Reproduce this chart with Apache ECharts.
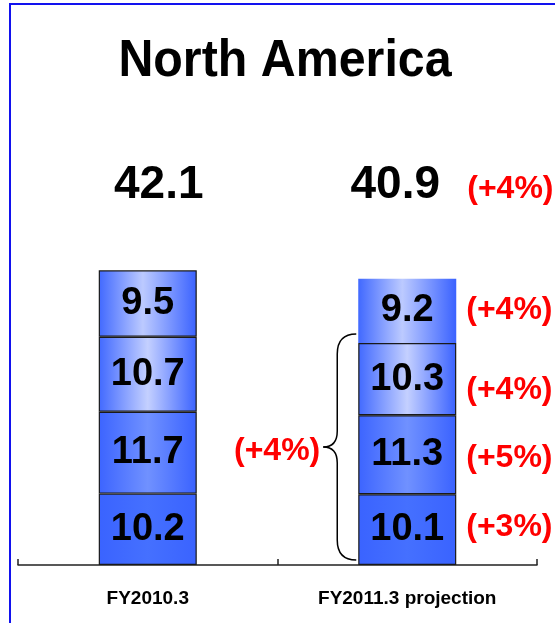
<!DOCTYPE html>
<html>
<head>
<meta charset="utf-8">
<script src="https://cdn.jsdelivr.net/npm/echarts@6/dist/echarts.min.js"></script>
<style>
html,body{margin:0;padding:0;background:#fff;}
#main{width:555px;height:623px;}
</style>
</head>
<body>
<div id="main"></div>
<script>
// ---- data ----
const categories = ['FY2010.3', 'FY2011.3 projection'];
const segment1 = [10.2, 10.1];   // bottom
const segment2 = [11.7, 11.3];
const segment3 = [10.7, 10.3];
const segment4 = [9.5, 9.2];     // top
const totals = [42.1, 40.9];
const segmentGrowth = ['(+3%)', '(+5%)', '(+4%)', '(+4%)']; // projection, bottom -> top
const totalGrowth = '(+4%)';
const braceGrowth = '(+4%)';
const titleText = 'North America';

// ---- styling ----
const FONT = "'Liberation Sans', Arial, Helvetica, sans-serif";
function grad(edgeL, mid, edgeR, midPos) {
  return new echarts.graphic.LinearGradient(0, 0, 1, 0, [
    { offset: 0, color: edgeL },
    { offset: midPos, color: mid },
    { offset: 1, color: edgeR }
  ]);
}
const segFills = [
  grad('#3a63ff', '#4570ff', '#3a63ff', 0.5),
  grad('#3c64ff', '#7091ff', '#3a62ff', 0.5),
  grad('#4169ff', '#c4d0ff', '#3a62ff', 0.5),
  grad('#4169ff', '#bccaff', '#3a62ff', 0.45)
];
const segData = [segment1, segment2, segment3, segment4];
const labelOffsets = [[0, -2], [0, 3], [0, 11], [0, -1]];

const series = [];
segData.forEach(function (arr, i) {
  series.push({
    name: 'seg' + (i + 1),
    type: 'bar',
    stack: 'main',
    barWidth: 98,
    barGap: '-100%',
    silent: true,
    data: arr.map(function (v, c) {
      const noBorder = (c === 1 && i === 3);
      return {
        value: v,
        itemStyle: {
          color: segFills[i],
          borderColor: '#1a1a1a',
          borderWidth: noBorder ? 0 : 1.2
        }
      };
    }),
    label: {
      show: true,
      position: 'inside',
      formatter: function (p) { return p.value.toFixed(1); },
      color: '#000',
      fontFamily: FONT,
      fontWeight: 'bold',
      fontSize: 38
    }
  });
});
// overlay transparent stack carrying growth labels on the projection bar
segData.forEach(function (arr, i) {
  series.push({
    name: 'growth' + (i + 1),
    type: 'bar',
    stack: 'growth',
    barWidth: 98,
    barGap: '-100%',
    silent: true,
    itemStyle: { color: 'rgba(0,0,0,0)' },
    data: ['-', arr[1]],
    label: {
      show: true,
      position: 'right',
      distance: 10,
      offset: labelOffsets[i],
      formatter: function () { return segmentGrowth[i]; },
      color: '#ff0000',
      fontFamily: FONT,
      fontWeight: 'bold',
      fontSize: 32
    }
  });
});

const chart = echarts.init(document.getElementById('main'), null, { renderer: 'canvas' });
chart.setOption({
  animation: false,
  backgroundColor: '#fff',
  grid: { left: 18, right: 18, bottom: 58, top: 145, containLabel: false },
  xAxis: {
    type: 'category',
    data: categories,
    axisLine: { lineStyle: { color: '#222', width: 1.5 } },
    axisTick: { show: true, inside: true, length: 6, lineStyle: { color: '#222', width: 1.5 } },
    axisLabel: { color: '#000', fontFamily: FONT, fontWeight: 'bold', fontSize: 19, margin: 24 }
  },
  yAxis: { type: 'value', min: 0, max: 60, show: false, splitLine: { show: false } },
  series: series
});

// annotations positioned through the chart's scales
function px(cat, val) { return chart.convertToPixel({ gridIndex: 0 }, [cat, val]); }
const halfBar = 49;
const graphics = [
  { type: 'rect', shape: { x: 10, y: 4, width: 700, height: 800 }, style: { fill: 'none', stroke: '#1212ee', lineWidth: 2 }, silent: true },
  { type: 'text', silent: true, x: 285, y: 62, scaleX: 0.93,
    style: { text: titleText, x: 0, y: 0, textAlign: 'center', textVerticalAlign: 'middle',
      font: 'bold 52px ' + FONT, fill: '#000' } }
];
totals.forEach(function (t, c) {
  const p = px(c, t);
  const dx = c === 0 ? 11 : -12;
  graphics.push({
    type: 'text', silent: true,
    style: { text: t.toFixed(1), x: p[0] + dx, y: 185, textAlign: 'center', textVerticalAlign: 'middle',
      font: 'bold 46px ' + FONT, fill: '#000' }
  });
});
const p2 = px(1, totals[1]);
graphics.push({
  type: 'text', silent: true,
  style: { text: totalGrowth, x: p2[0] + halfBar + 11, y: 189, textAlign: 'left', textVerticalAlign: 'middle',
    font: 'bold 32px ' + FONT, fill: '#ff0000' }
});
// brace spanning the three lower segments of the projection bar
const braceTopVal = segment1[1] + segment2[1] + segment3[1];
const bTop = px(1, braceTopVal)[1] - 9;
const bBot = px(1, 0)[1] - 5;
const tipX = px(1, 0)[0] - halfBar - 2;
const spineX = tipX - 19;
const pointX = spineX - 14;
const mid = (bTop + bBot) / 2;
const braceStyle = { fill: 'none', stroke: '#000', lineWidth: 1.5 };
graphics.push(
  { type: 'bezierCurve', silent: true, style: braceStyle,
    shape: { x1: tipX, y1: bTop, cpx1: spineX, cpy1: bTop, x2: spineX, y2: bTop + 20 } },
  { type: 'line', silent: true, style: braceStyle,
    shape: { x1: spineX, y1: bTop + 20, x2: spineX, y2: mid - 16 } },
  { type: 'bezierCurve', silent: true, style: braceStyle,
    shape: { x1: spineX, y1: mid - 16, cpx1: spineX, cpy1: mid, x2: pointX, y2: mid } },
  { type: 'bezierCurve', silent: true, style: braceStyle,
    shape: { x1: pointX, y1: mid, cpx1: spineX, cpy1: mid, x2: spineX, y2: mid + 16 } },
  { type: 'line', silent: true, style: braceStyle,
    shape: { x1: spineX, y1: mid + 16, x2: spineX, y2: bBot - 20 } },
  { type: 'bezierCurve', silent: true, style: braceStyle,
    shape: { x1: spineX, y1: bBot - 20, cpx1: spineX, cpy1: bBot, x2: tipX, y2: bBot } },
  { type: 'text', silent: true,
    style: { text: braceGrowth, x: pointX - 3, y: mid + 4, textAlign: 'right', textVerticalAlign: 'middle',
      font: 'bold 32px ' + FONT, fill: '#ff0000' } }
);
chart.setOption({ graphic: graphics });
</script>
</body>
</html>
